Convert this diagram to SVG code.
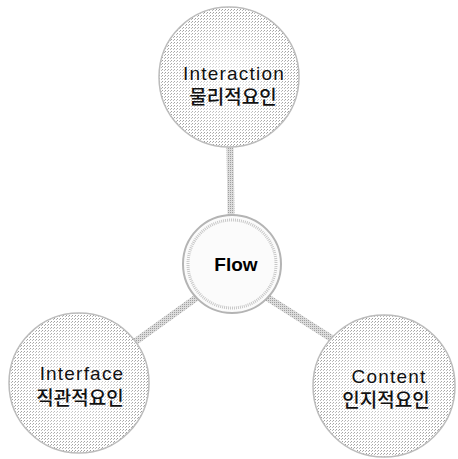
<svg xmlns="http://www.w3.org/2000/svg" width="458" height="459" viewBox="0 0 458 459">
  <defs>
    <!-- stippled grey fill for the factor circles -->
    <pattern id="stipple" width="3" height="3" patternUnits="userSpaceOnUse">
      <rect width="3" height="3" fill="#ffffff"/>
      <rect x="0" y="0" width="1" height="1" fill="#9a9a9a"/>
      <rect x="2" y="1" width="1" height="1" fill="#b5b5b5"/>
    </pattern>
    <radialGradient id="sheen" cx="0.5" cy="0.5" r="0.5">
      <stop offset="0" stop-color="#ffffff" stop-opacity="0.7"/>
      <stop offset="0.6" stop-color="#ffffff" stop-opacity="0.3"/>
      <stop offset="1" stop-color="#ffffff" stop-opacity="0"/>
    </radialGradient>
    <pattern id="lineDots" width="2" height="2" patternUnits="userSpaceOnUse">
      <rect width="2" height="2" fill="#dcdcdc"/>
      <rect width="1" height="1" fill="#a0a0a0"/>
    </pattern>
  </defs>
  <style>
    .ball { fill: url(#stipple); stroke: #bcbcbc; stroke-width: 1.5; }
    .shine { fill: url(#sheen); }
    .hub { fill: #fbfbfb; stroke: #b4b4b4; stroke-width: 2; }
    .hubring { fill: none; stroke: #c8c8c8; stroke-width: 3; stroke-dasharray: 1 1; }
    .link { stroke: url(#lineDots); stroke-width: 7; stroke-linecap: round; }
    .en { font-family: "Liberation Sans", "Noto Sans CJK KR", sans-serif; font-size: 19px; fill: #111; text-anchor: middle; letter-spacing: 1.2px; }
    .ko { font-family: "Noto Sans CJK KR", "Liberation Sans", sans-serif; font-size: 19px; font-weight: 500; fill: #111; text-anchor: middle; }
    .hubtxt { font-family: "Liberation Sans", Arial, sans-serif; font-size: 19px; font-weight: bold; fill: #000; text-anchor: middle; }
  </style>

  <rect width="458" height="459" fill="#ffffff"/>

  <g id="connectors">
    <line class="link" x1="230" y1="146" x2="231" y2="214"/>
    <line class="link" x1="196" y1="298" x2="132" y2="344"/>
    <line class="link" x1="268" y1="298" x2="334" y2="340"/>
  </g>

  <g id="interaction">
    <circle class="ball" cx="229" cy="77" r="70"/>
    <circle class="shine" cx="229" cy="77" r="70"/>
    <text class="en" x="234" y="80">Interaction</text>
    <text class="ko" x="233" y="104">물리적요인</text>
  </g>

  <g id="flow">
    <circle class="hub" cx="232" cy="264" r="49"/>
    <circle class="hubring" cx="232" cy="264" r="44"/>
    <text class="hubtxt" x="236" y="271">Flow</text>
  </g>

  <g id="interface">
    <circle class="ball" cx="79" cy="383" r="70"/>
    <circle class="shine" cx="79" cy="383" r="70"/>
    <text class="en" x="82" y="380">Interface</text>
    <text class="ko" x="80" y="405">직관적요인</text>
  </g>

  <g id="content">
    <circle class="ball" cx="384" cy="386" r="71"/>
    <circle class="shine" cx="384" cy="386" r="71"/>
    <text class="en" x="389" y="383">Content</text>
    <text class="ko" x="386" y="407">인지적요인</text>
  </g>
</svg>
